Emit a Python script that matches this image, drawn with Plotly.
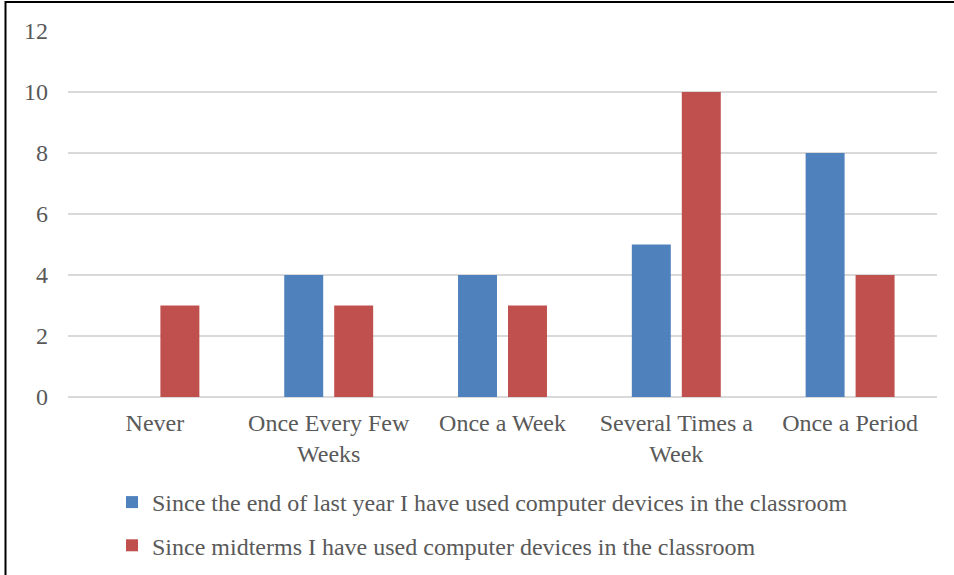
import plotly.graph_objects as go

categories = ["Never", "Once Every Few<br>Weeks", "Once a Week", "Several Times a<br>Week", "Once a Period"]
series_names = [
    "Since the end of last year I have used computer devices in the classroom",
    "Since midterms I have used computer devices in the classroom",
]
end_of_last_year = [0, 4, 4, 5, 8]
since_midterms = [3, 3, 3, 10, 4]
y_ticks = [0, 2, 4, 6, 8, 10, 12]

BLUE = "#4F81BD"
RED = "#C0504D"
TEXT = "#595959"
GRID = "#D9D9D9"
FONT = "'Liberation Serif', 'Times New Roman', 'DejaVu Serif', serif"
FS = 24

W, H = 954, 575
ML, MR, MT, MB = 68, 17, 31, 178
pw, ph = W - ML - MR, H - MT - MB


def px_x(x):
    return (x - ML) / pw


def px_y(y):
    return 1 - (y - MT) / ph


fig = go.Figure()
fig.add_trace(go.Bar(x=categories, y=end_of_last_year, name=series_names[0],
                     marker=dict(color=BLUE, line=dict(width=0)), legendgroup="a"))
fig.add_trace(go.Bar(x=categories, y=since_midterms, name=series_names[1],
                     marker=dict(color=RED, line=dict(width=0)), legendgroup="b"))

# outer frame lines along the top and left edges
fig.add_shape(type="line", xref="paper", yref="paper",
              x0=px_x(5.5), x1=px_x(W + 5), y0=px_y(2), y1=px_y(2),
              line=dict(color="black", width=2))
fig.add_shape(type="line", xref="paper", yref="paper",
              x0=px_x(5.5), x1=px_x(5.5), y0=px_y(1), y1=px_y(H + 5),
              line=dict(color="black", width=2))

fig.update_layout(
    width=W, height=H,
    margin=dict(l=ML, r=MR, t=MT, b=MB, autoexpand=False),
    paper_bgcolor="white", plot_bgcolor="white",
    barmode="group", bargap=0.425, bargroupgap=0.22,
    font=dict(family=FONT, size=FS, color=TEXT),
    hovermode=False,
    showlegend=True,
    legend=dict(
        orientation="v",
        x=px_x(112), xanchor="left",
        y=px_y(480), yanchor="top",
        font=dict(family=FONT, size=FS, color=TEXT),
        tracegroupgap=9,
        bgcolor="rgba(0,0,0,0)",
    ),
    xaxis=dict(
        showgrid=False, showline=False, zeroline=False, ticks="",
        tickfont=dict(family=FONT, size=FS, color=TEXT),
        ticklabelstandoff=9, automargin=False,
    ),
    yaxis=dict(
        range=[0, 12], tickvals=y_ticks,
        showgrid=True, gridcolor=GRID, gridwidth=1.5,
        zeroline=True, zerolinecolor=GRID, zerolinewidth=1.5,
        showline=False, ticks="",
        tickfont=dict(family=FONT, size=FS, color=TEXT),
        ticklabelstandoff=19, automargin=False,
    ),
)

fig.write_html("out.html")
